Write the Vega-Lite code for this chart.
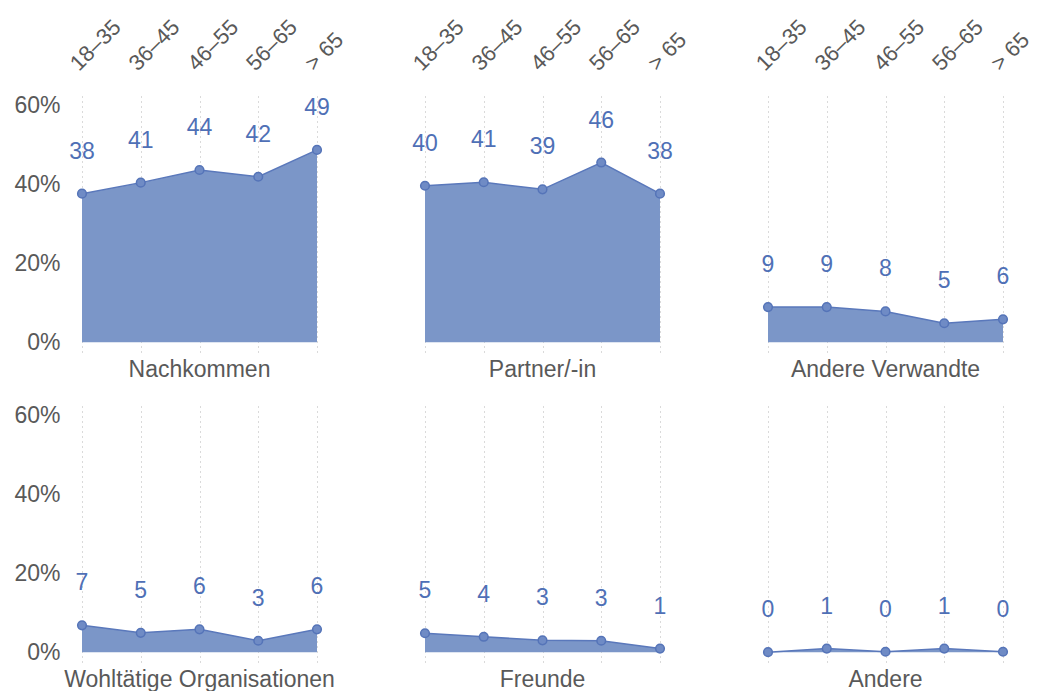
{
  "$schema": "https://vega.github.io/schema/vega-lite/v6.json",
  "background": "white",
  "padding": {"left": 13, "top": 15, "right": 5, "bottom": 0},
  "bounds": "flush",
  "data": {"values": [
    {"cat": "Nachkommen", "age": "18–35", "v": 37.7},
    {"cat": "Nachkommen", "age": "36–45", "v": 40.5},
    {"cat": "Nachkommen", "age": "46–55", "v": 43.7},
    {"cat": "Nachkommen", "age": "56–65", "v": 42},
    {"cat": "Nachkommen", "age": "> 65", "v": 48.8},
    {"cat": "Partner/-in", "age": "18–35", "v": 39.7},
    {"cat": "Partner/-in", "age": "36–45", "v": 40.6},
    {"cat": "Partner/-in", "age": "46–55", "v": 38.8},
    {"cat": "Partner/-in", "age": "56–65", "v": 45.6},
    {"cat": "Partner/-in", "age": "> 65", "v": 37.7},
    {"cat": "Andere Verwandte", "age": "18–35", "v": 8.9},
    {"cat": "Andere Verwandte", "age": "36–45", "v": 8.9},
    {"cat": "Andere Verwandte", "age": "46–55", "v": 7.8},
    {"cat": "Andere Verwandte", "age": "56–65", "v": 4.8},
    {"cat": "Andere Verwandte", "age": "> 65", "v": 5.8},
    {"cat": "Wohltätige Organisationen", "age": "18–35", "v": 6.8},
    {"cat": "Wohltätige Organisationen", "age": "36–45", "v": 4.9},
    {"cat": "Wohltätige Organisationen", "age": "46–55", "v": 5.8},
    {"cat": "Wohltätige Organisationen", "age": "56–65", "v": 2.9},
    {"cat": "Wohltätige Organisationen", "age": "> 65", "v": 5.8},
    {"cat": "Freunde", "age": "18–35", "v": 4.8},
    {"cat": "Freunde", "age": "36–45", "v": 3.9},
    {"cat": "Freunde", "age": "46–55", "v": 3},
    {"cat": "Freunde", "age": "56–65", "v": 2.9},
    {"cat": "Freunde", "age": "> 65", "v": 0.9},
    {"cat": "Andere", "age": "18–35", "v": 0},
    {"cat": "Andere", "age": "36–45", "v": 0.9},
    {"cat": "Andere", "age": "46–55", "v": 0.1},
    {"cat": "Andere", "age": "56–65", "v": 0.9},
    {"cat": "Andere", "age": "> 65", "v": 0.1}
  ]},
  "facet": {
    "field": "cat", "type": "nominal",
    "sort": ["Nachkommen", "Partner/-in", "Andere Verwandte", "Wohltätige Organisationen", "Freunde", "Andere"],
    "header": {"title": null, "labelOrient": "bottom", "labelFontSize": 23, "labelColor": "#595959", "labelFont": "Liberation Sans", "labelPadding": 7}
  },
  "columns": 3,
  "spacing": {"column": 108, "row": 52},
  "spec": {
    "width": 235,
    "height": 258,
    "encoding": {
      "x": {"field": "age", "type": "ordinal", "sort": ["18–35", "36–45", "46–55", "56–65", "> 65"],
        "scale": {"type": "point", "padding": 0},
        "axis": {"orient": "top", "title": null, "labelAngle": -45, "labelFontSize": 22, "labelColor": "#595959", "labelFont": "Liberation Sans", "labelPadding": 19, "grid": true, "gridDash": [1, 4], "gridColor": "#b5b5b5", "gridWidth": 1, "domain": false, "ticks": false}},
      "y": {"field": "v", "type": "quantitative",
        "scale": {"domain": [-2.5, 63], "nice": false, "zero": false},
        "axis": {"title": null, "values": [0, 20, 40, 60], "labelExpr": "datum.value + '%'", "labelFontSize": 23, "labelColor": "#595959", "labelFont": "Liberation Sans", "labelPadding": 22, "grid": false, "domain": false, "ticks": false}}
    },
    "layer": [
      {"mark": {"type": "area", "color": "#7b96c8", "opacity": 1, "line": {"color": "#5a78bb", "strokeWidth": 1.5}}, "encoding": {"y2": {"datum": 0}}},
      {"mark": {"type": "point", "filled": true, "size": 75, "fill": "#6f8bc5", "stroke": "#5574b8", "strokeWidth": 1.5, "opacity": 1}},
      {"mark": {"type": "text", "dy": -42, "fontSize": 23, "font": "Liberation Sans", "color": "#4f70b6", "baseline": "middle"}, "encoding": {"text": {"field": "v", "type": "quantitative", "format": ".0f"}}}
    ]
  },
  "config": {"view": {"stroke": null}}
}
